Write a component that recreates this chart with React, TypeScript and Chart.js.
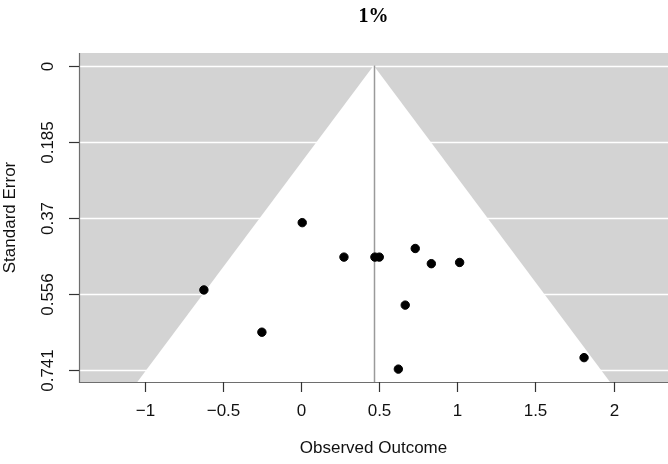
import React, { useEffect, useRef } from "react";
import { Chart, registerables } from "chart.js";

Chart.register(...registerables);

const titleText = "1%";
const xAxisTitle = "Observed Outcome";
const yAxisTitle = "Standard Error";

const estimates = [0.008, 0.275, 0.473, 0.501, 0.731, 0.834, 1.015, -0.621, 0.667, -0.25, 0.623, 1.811];
const standardErrors = [0.383, 0.467, 0.467, 0.467, 0.446, 0.483, 0.48, 0.547, 0.584, 0.65, 0.74, 0.712];

const pooledEstimate = 0.465;
const zCrit = 1.96;

const xTickValues = [-1, -0.5, 0, 0.5, 1, 1.5, 2];
const xTickLabels = ["\u22121", "\u22120.5", "0", "0.5", "1", "1.5", "2"];
const yTickValues = [0, 0.1853, 0.3706, 0.5559, 0.7412];
const yTickLabels = ["0", "0.185", "0.37", "0.556", "0.741"];

const SANS = '"Liberation Sans", Arial, Helvetica, sans-serif';
const SERIF = '"Liberation Serif", "Times New Roman", serif';

const funnelPlugin = {
  id: "funnel",
  beforeDatasetsDraw(chart: any) {
    const { ctx, chartArea: a } = chart;
    const xs = chart.scales.x;
    const ys = chart.scales.y;
    ctx.save();
    ctx.beginPath();
    ctx.rect(a.left, a.top, a.right - a.left, a.bottom - a.top);
    ctx.clip();
    ctx.fillStyle = "#d3d3d3";
    ctx.fillRect(a.left, a.top, a.right - a.left, a.bottom - a.top);
    // grid lines
    ctx.strokeStyle = "#ffffff";
    ctx.lineWidth = 1.5;
    yTickValues.forEach((v) => {
      const py = Math.round(ys.getPixelForValue(v)) + 0.5;
      ctx.beginPath();
      ctx.moveTo(a.left, py);
      ctx.lineTo(a.right, py);
      ctx.stroke();
    });
    // white funnel
    const seMax = ys.max;
    ctx.fillStyle = "#ffffff";
    ctx.beginPath();
    ctx.moveTo(xs.getPixelForValue(pooledEstimate), ys.getPixelForValue(0));
    ctx.lineTo(xs.getPixelForValue(pooledEstimate + zCrit * seMax), ys.getPixelForValue(seMax));
    ctx.lineTo(xs.getPixelForValue(pooledEstimate - zCrit * seMax), ys.getPixelForValue(seMax));
    ctx.closePath();
    ctx.fill();
    // vertical reference line
    const vx = Math.round(xs.getPixelForValue(pooledEstimate)) + 0.5;
    ctx.strokeStyle = "#9a9a9a";
    ctx.lineWidth = 1.5;
    ctx.beginPath();
    ctx.moveTo(vx, ys.getPixelForValue(0));
    ctx.lineTo(vx, a.bottom);
    ctx.stroke();
    ctx.restore();
  },
  afterDraw(chart: any) {
    const { ctx, chartArea: a } = chart;
    const xs = chart.scales.x;
    const ys = chart.scales.y;
    ctx.save();
    // box lines (L shape)
    ctx.strokeStyle = "#6e6e6e";
    ctx.lineWidth = 1.2;
    ctx.beginPath();
    ctx.moveTo(a.left + 0.5, a.top);
    ctx.lineTo(a.left + 0.5, a.bottom + 0.5);
    ctx.lineTo(a.right, a.bottom + 0.5);
    ctx.stroke();
    // y ticks
    ctx.strokeStyle = "#333333";
    ctx.fillStyle = "#111111";
    ctx.font = "17px " + SANS;
    yTickValues.forEach((v, i) => {
      const py = Math.round(ys.getPixelForValue(v)) + 0.5;
      ctx.beginPath();
      ctx.moveTo(a.left - 10, py);
      ctx.lineTo(a.left, py);
      ctx.stroke();
      ctx.save();
      ctx.translate(a.left - 31, py);
      ctx.rotate(-Math.PI / 2);
      ctx.textAlign = "center";
      ctx.textBaseline = "middle";
      ctx.fillText(yTickLabels[i], 0, 0);
      ctx.restore();
    });
    // x ticks
    xTickValues.forEach((v, i) => {
      const px = Math.round(xs.getPixelForValue(v)) + 0.5;
      ctx.beginPath();
      ctx.moveTo(px, a.bottom);
      ctx.lineTo(px, a.bottom + 10);
      ctx.stroke();
      ctx.textAlign = "center";
      ctx.textBaseline = "middle";
      ctx.fillText(xTickLabels[i], px, a.bottom + 29);
    });
    // axis titles
    ctx.textAlign = "center";
    ctx.textBaseline = "middle";
    ctx.fillText(xAxisTitle, (a.left + a.right) / 2, a.bottom + 66);
    ctx.save();
    ctx.translate(10, (a.top + a.bottom) / 2);
    ctx.rotate(-Math.PI / 2);
    ctx.fillText(yAxisTitle, 0, 0);
    ctx.restore();
    // main title
    ctx.font = "bold 20px " + SERIF;
    ctx.fillStyle = "#000000";
    ctx.fillText(titleText, (a.left + a.right) / 2, 17);
    ctx.restore();
  },
};

export default function App() {
  const canvasRef = useRef<HTMLCanvasElement | null>(null);

  useEffect(() => {
    document.body.style.margin = "0";
    const canvas = canvasRef.current;
    if (!canvas) return;
    const points = estimates.map((x, i) => ({ x, y: standardErrors[i] }));
    const chart = new Chart(canvas, {
      type: "scatter",
      data: {
        datasets: [
          {
            data: points,
            backgroundColor: "#000000",
            borderColor: "#000000",
            pointRadius: 4.2,
            pointHoverRadius: 4.2,
            clip: false,
          },
        ],
      },
      options: {
        animation: false,
        responsive: false,
        events: [],
        layout: { autoPadding: false, padding: { top: 53, left: 0, right: 0, bottom: 0 } },
        plugins: {
          legend: { display: false },
          title: { display: false },
          tooltip: { enabled: false },
        },
        scales: {
          x: {
            type: "linear",
            min: -1.42,
            max: 2.348,
            grid: { display: false },
            border: { display: false },
            ticks: { display: false },
            afterFit: (s: any) => {
              s.height = 82;
            },
          },
          y: {
            type: "linear",
            reverse: true,
            min: -0.0305,
            max: 0.7714,
            grid: { display: false },
            border: { display: false },
            ticks: { display: false },
            afterFit: (s: any) => {
              s.width = 79;
            },
          },
        },
      },
      plugins: [funnelPlugin],
    });
    return () => chart.destroy();
  }, []);

  return (
    <div style={{ width: 668, height: 464 }}>
      <canvas ref={canvasRef} width={668} height={464} style={{ display: "block" }} />
    </div>
  );
}
